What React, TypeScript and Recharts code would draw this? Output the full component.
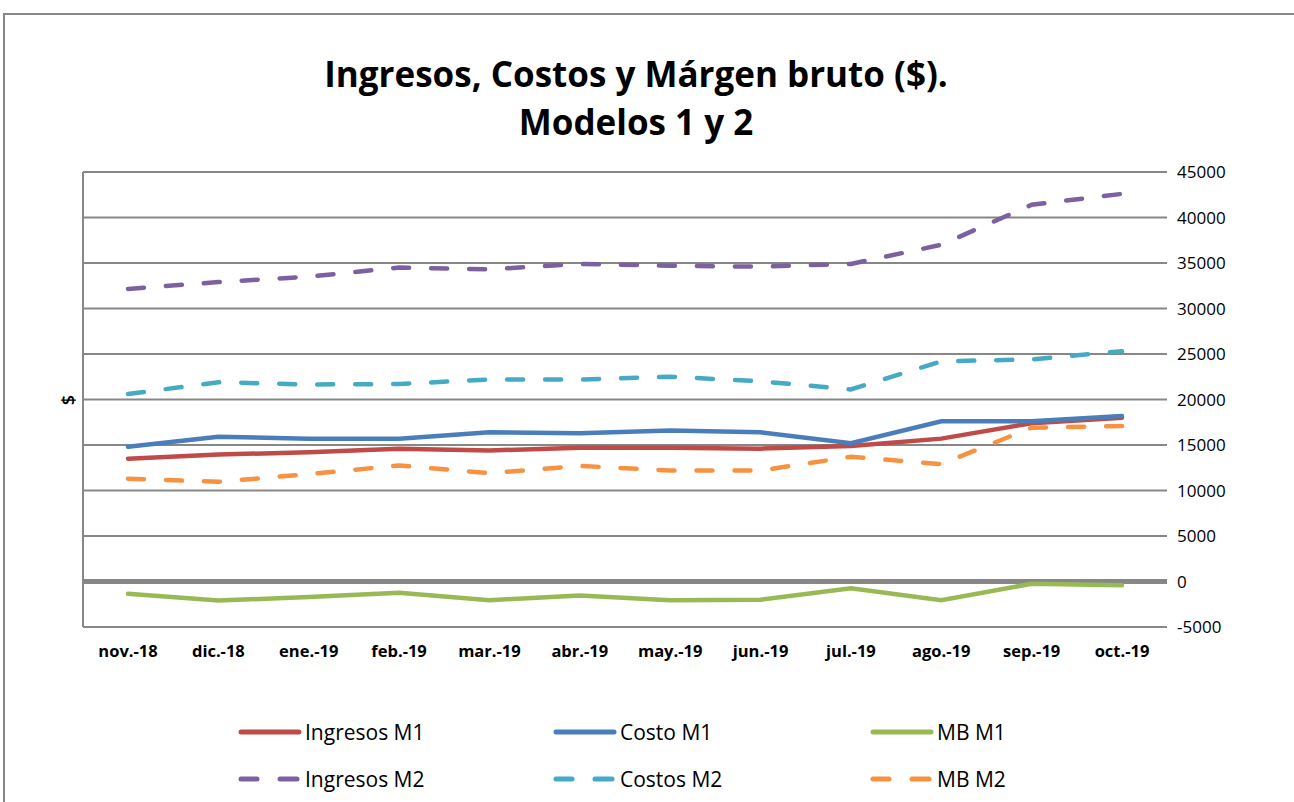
import React from 'react';
import { LineChart, Line, XAxis, YAxis, CartesianGrid, ReferenceLine } from 'recharts';

const months = ['nov.-18', 'dic.-18', 'ene.-19', 'feb.-19', 'mar.-19', 'abr.-19', 'may.-19', 'jun.-19', 'jul.-19', 'ago.-19', 'sep.-19', 'oct.-19'];
const ingresosM1 = [13500, 13950, 14200, 14600, 14400, 14700, 14700, 14600, 14900, 15700, 17400, 18000];
const costoM1 = [14800, 15900, 15700, 15700, 16400, 16300, 16600, 16400, 15200, 17600, 17600, 18200];
const mbM1 = [-1350, -2100, -1700, -1250, -2050, -1550, -2050, -2000, -750, -2050, -250, -400];
const ingresosM2 = [32150, 32900, 33500, 34500, 34300, 34900, 34700, 34600, 34900, 37000, 41400, 42600];
const costosM2 = [20600, 21900, 21650, 21700, 22200, 22200, 22500, 22000, 21100, 24200, 24400, 25300];
const mbM2 = [11300, 10950, 11800, 12750, 11900, 12700, 12200, 12200, 13700, 12900, 16900, 17100];
const yTicks = [-5000, 0, 5000, 10000, 15000, 20000, 25000, 30000, 35000, 40000, 45000];

const series = [
  { key: 'ingresosM1', name: 'Ingresos M1', values: ingresosM1, color: '#BE4B48', dashed: false },
  { key: 'costoM1', name: 'Costo M1', values: costoM1, color: '#4A7EBB', dashed: false },
  { key: 'mbM1', name: 'MB M1', values: mbM1, color: '#98B954', dashed: false },
  { key: 'ingresosM2', name: 'Ingresos M2', values: ingresosM2, color: '#7D60A0', dashed: true },
  { key: 'costosM2', name: 'Costos M2', values: costosM2, color: '#46AAC5', dashed: true },
  { key: 'mbM2', name: 'MB M2', values: mbM2, color: '#F69240', dashed: true },
];

const data = months.map((m, i) => {
  const row: Record<string, string | number> = { month: m };
  series.forEach((s) => { row[s.key] = s.values[i]; });
  return row;
});

const FONT = "'Open Sans', 'DejaVu Sans', sans-serif";
const GRID = '#878787';

const legendCols = [238, 553, 870];
const legendRows = [732, 779];

export default function App() {
  return (
    <div style={{ position: 'absolute', left: 0, top: 0, width: 1294, height: 802, overflow: 'hidden', background: '#fff', fontFamily: FONT }}>
      <div style={{ position: 'absolute', left: 3, top: 13, width: 1320, height: 820, border: `2px solid ${GRID}` }} />
      <div style={{ position: 'absolute', left: 0, top: 50, width: 1272, textAlign: 'center', fontWeight: 700, fontSize: 35, lineHeight: '48px', color: '#000' }}>
        Ingresos, Costos y Márgen bruto ($).<br />Modelos 1 y 2
      </div>
      <div style={{ position: 'absolute', left: 68, top: 400, transform: 'translate(-50%, -50%) rotate(-90deg)', fontSize: 18, fontWeight: 600, color: '#000' }}>$</div>
      <div style={{ position: 'absolute', left: 0, top: 0 }}>
        <LineChart width={1294} height={802} data={data} margin={{ top: 172, right: 67, bottom: 135, left: 82 }}>
          <CartesianGrid yAxisId="r" horizontal vertical={false} stroke={GRID} strokeWidth={2} />
          <XAxis dataKey="month" axisLine={false} tickLine={false} tickSize={0} tickMargin={18} height={40}
            padding={{ left: 45, right: 45 }}
            tick={{ fontFamily: FONT, fontSize: 16.5, fontWeight: 700, fill: '#000' }} interval={0} />
          <YAxis yAxisId="l" orientation="left" width={1} domain={[-5000, 45000]} ticks={yTicks} tick={false} tickLine={false}
            axisLine={{ stroke: GRID, strokeWidth: 2 }} />
          <YAxis yAxisId="r" orientation="right" width={60} domain={[-5000, 45000]} ticks={yTicks} axisLine={false} tickLine={false}
            tickSize={0} tickMargin={10} interval={0} tick={{ fontFamily: FONT, fontSize: 17, fill: '#000', textAnchor: 'start' }} />
          <ReferenceLine yAxisId="r" y={0} stroke={GRID} strokeWidth={5} />
          {series.map((s) => (
            <Line key={s.key} yAxisId="r" dataKey={s.key} name={s.name} stroke={s.color} strokeWidth={4.5}
              strokeDasharray={s.dashed ? '16 22' : undefined} strokeLinecap="round" dot={false} activeDot={false}
              isAnimationActive={false} type="linear" />
          ))}
        </LineChart>
      </div>
      {series.map((s, i) => {
        const x = legendCols[i % 3];
        const y = legendRows[Math.floor(i / 3)];
        return (
          <div key={s.key} style={{ position: 'absolute', left: x, top: y - 15, height: 30, display: 'flex', alignItems: 'center' }}>
            <svg width={64} height={10} style={{ display: 'block' }}>
              {s.dashed ? (
                <>
                  <line x1={3} y1={5} x2={19} y2={5} stroke={s.color} strokeWidth={5} strokeLinecap="round" />
                  <line x1={42} y1={5} x2={59} y2={5} stroke={s.color} strokeWidth={5} strokeLinecap="round" />
                </>
              ) : (
                <line x1={3} y1={5} x2={61} y2={5} stroke={s.color} strokeWidth={5} strokeLinecap="round" />
              )}
            </svg>
            <span style={{ fontSize: 21, color: '#000', marginLeft: 3, whiteSpace: 'nowrap' }}>{s.name}</span>
          </div>
        );
      })}
    </div>
  );
}
